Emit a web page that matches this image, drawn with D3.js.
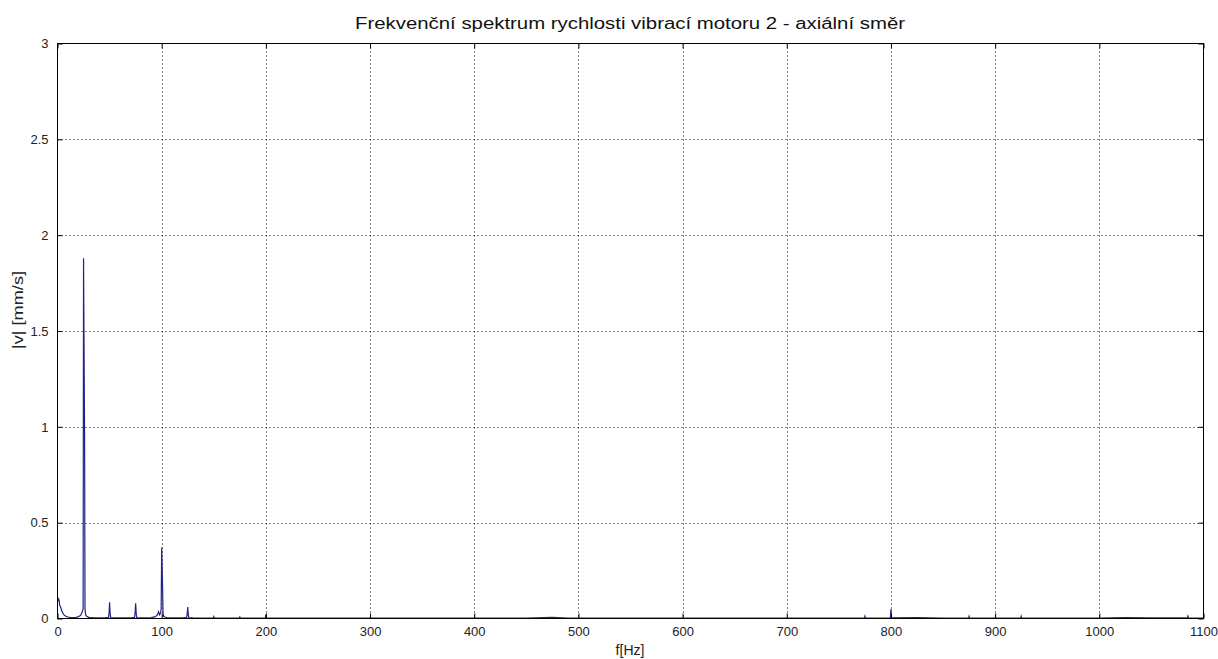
<!DOCTYPE html>
<html>
<head>
<meta charset="utf-8">
<script src="https://cdn.jsdelivr.net/npm/d3@7"></script>
<style>
    body { margin: 0; background: #fff; }
    svg { display: block; font-family: 'Liberation Sans', Arial, sans-serif; }
</style>
</head>
<body>
<div id="chart"></div>
<script>
const title = 'Frekvenční spektrum rychlosti vibrací motoru 2 - axiální směr';
const xLabel = 'f[Hz]';
const yLabel = '|v| [mm/s]';
const xTicks = [0, 100, 200, 300, 400, 500, 600, 700, 800, 900, 1000, 1100];
const yTicks = [0, 0.5, 1, 1.5, 2, 2.5, 3];

// spectrum (Hz, mm/s)
const freqHz = [
    0, 0.5, 1, 1.5, 2, 3, 4, 5, 6, 8, 10, 12, 15, 18, 20, 22, 23, 24, 24.6, 25, 26, 26.4, 27, 28, 30,
    35, 40, 45, 49, 49.5, 50, 50.5, 51, 55, 60, 65, 70, 74, 74.5, 75, 75.5, 76, 80, 85, 90,
    94, 96, 97, 98, 99, 99.5, 100, 100.8, 101.3, 102, 105, 110, 115, 120, 124, 124.5, 125, 125.5, 126,
    130, 140, 149.5, 150, 150.5, 160, 174.5, 175, 175.5, 190, 199.5, 200, 200.5, 210, 250,
    299.5, 300, 300.5, 350, 390, 399.5, 400, 400.5, 410, 450, 475, 490, 499.5, 500, 500.5, 550,
    599.5, 600, 600.5, 650, 699.5, 700, 700.5, 750, 774.5, 775, 775.5, 790, 799.5, 800, 800.5,
    825, 850, 874.5, 875, 875.5, 899.5, 900, 900.5, 924.5, 925, 925.5, 950, 999.5, 1000, 1000.5,
    1025, 1050, 1075, 1084.5, 1085, 1085.5, 1100
];
const speed = [
    0.10, 0.11, 0.09, 0.10, 0.07, 0.06, 0.04, 0.03, 0.02, 0.012, 0.008, 0.006, 0.005, 0.006, 0.01, 0.015, 0.025, 0.04, 0.05, 1.88, 0.95, 0.05, 0.02, 0.012, 0.006,
    0.004, 0.003, 0.003, 0.006, 0.03, 0.085, 0.03, 0.005, 0.003, 0.003, 0.003, 0.003, 0.006, 0.03, 0.08, 0.03, 0.005, 0.003, 0.004, 0.005,
    0.01, 0.02, 0.035, 0.02, 0.03, 0.05, 0.37, 0.18, 0.03, 0.01, 0.004, 0.003, 0.003, 0.003, 0.006, 0.025, 0.06, 0.025, 0.005,
    0.003, 0.002, 0.002, 0.01, 0.002, 0.002, 0.002, 0.008, 0.002, 0.002, 0.004, 0.02, 0.004, 0.002, 0.002,
    0.002, 0.003, 0.002, 0.002, 0.002, 0.002, 0.004, 0.002, 0.002, 0.002, 0.006, 0.002, 0.002, 0.004, 0.002, 0.002,
    0.002, 0.003, 0.002, 0.002, 0.002, 0.003, 0.002, 0.002, 0.002, 0.012, 0.002, 0.002, 0.004, 0.05, 0.004,
    0.005, 0.002, 0.002, 0.012, 0.002, 0.002, 0.004, 0.002, 0.002, 0.012, 0.002, 0.002, 0.002, 0.003, 0.002,
    0.005, 0.003, 0.004, 0.003, 0.012, 0.003, 0.002
];

function renderGrid(svg, x, y, left, top, right, bottom) {
    const g = svg.append('g')
    .attr('stroke', '#000')
    .attr('stroke-width', 1)
    .attr('stroke-dasharray', '1,3');

    g.selectAll('line.vx')
    .data(xTicks.slice(1, -1))
    .enter()
    .append('line')
    .attr('x1', d => Math.round(x(d)) + 0.5)
    .attr('x2', d => Math.round(x(d)) + 0.5)
    .attr('y1', top)
    .attr('y2', bottom);

    g.selectAll('line.hy')
    .data(yTicks.slice(1, -1))
    .enter()
    .append('line')
    .attr('y1', d => Math.round(y(d)) + 0.5)
    .attr('y2', d => Math.round(y(d)) + 0.5)
    .attr('x1', left)
    .attr('x2', right);
}

function renderAxes(svg, x, y, left, top, right, bottom) {
    const tick = 5;

    svg.append('g')
    .attr('transform', `translate(0, ${bottom})`)
    .call(d3.axisBottom(x).tickValues(xTicks).tickSizeInner(-tick).tickSizeOuter(0).tickPadding(8).tickFormat(d3.format('d')))
    .call(g => g.select('.domain').remove())
    .style('font-size', '13px');

    svg.append('g')
    .attr('transform', `translate(0, ${top})`)
    .call(d3.axisTop(x).tickValues(xTicks).tickSizeInner(-tick).tickSizeOuter(0).tickFormat(''))
    .call(g => g.select('.domain').remove());

    svg.append('g')
    .attr('transform', `translate(${left}, 0)`)
    .call(d3.axisLeft(y).tickValues(yTicks).tickSizeInner(-tick).tickSizeOuter(0).tickPadding(9).tickFormat(d3.format('')))
    .call(g => g.select('.domain').remove())
    .style('font-size', '13px');

    svg.append('g')
    .attr('transform', `translate(${right}, 0)`)
    .call(d3.axisRight(y).tickValues(yTicks).tickSizeInner(-tick).tickSizeOuter(0).tickFormat(''))
    .call(g => g.select('.domain').remove());

    svg.selectAll('.tick text').attr('fill', '#222');

    svg.append('rect')
    .attr('x', left)
    .attr('y', top)
    .attr('width', right - left)
    .attr('height', bottom - top)
    .attr('fill', 'none')
    .attr('stroke', '#000')
    .attr('stroke-width', 1);
}

function render() {
    const width = 1218;
    const height = 659;
    const left = 57.5;
    const right = 1203.5;
    const top = 43.5;
    const bottom = 618.5;

    const svg = d3.select('#chart')
    .append('svg')
    .attr('width', width)
    .attr('height', height);

    const x = d3.scaleLinear().domain([0, 1100]).range([left, right]);
    const y = d3.scaleLinear().domain([0, 3]).range([bottom, top]);

    renderGrid(svg, x, y, left, top, right, bottom);

    const line = d3.line()
    .x((d, i) => x(freqHz[i]))
    .y(d => y(d));

    svg.append('path')
    .datum(speed)
    .attr('d', line)
    .attr('fill', 'none')
    .attr('stroke', '#22228a')
    .attr('stroke-width', 1.2);

    renderAxes(svg, x, y, left, top, right, bottom);

    svg.append('text')
    .attr('x', 630)
    .attr('y', 29)
    .attr('text-anchor', 'middle')
    .attr('textLength', 550)
    .attr('lengthAdjust', 'spacingAndGlyphs')
    .style('font-size', '16px')
    .attr('fill', '#111')
    .text(title);

    svg.append('text')
    .attr('x', 630)
    .attr('y', 655)
    .attr('text-anchor', 'middle')
    .style('font-size', '14px')
    .attr('fill', '#222')
    .text(xLabel);

    svg.append('text')
    .attr('transform', `translate(23, 310) rotate(-90)`)
    .attr('text-anchor', 'middle')
    .attr('textLength', 78)
    .attr('lengthAdjust', 'spacingAndGlyphs')
    .style('font-size', '14px')
    .attr('fill', '#222')
    .text(yLabel);
}

render();
</script>
</body>
</html>
